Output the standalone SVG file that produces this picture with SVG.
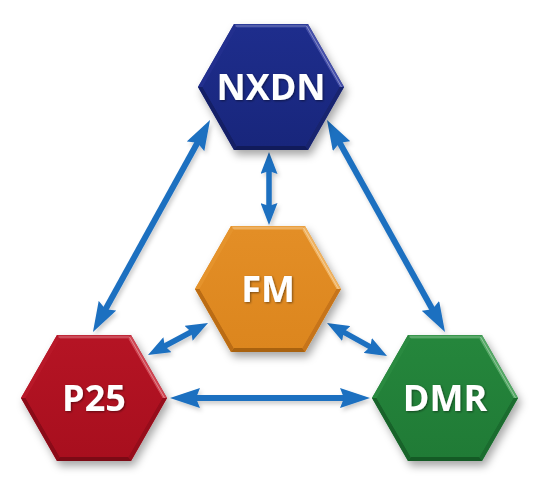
<svg xmlns="http://www.w3.org/2000/svg" xmlns:xlink="http://www.w3.org/1999/xlink" width="540" height="494" viewBox="0 0 540 494">
<style>
.lbl{font-family:"Open Sans","Liberation Sans",sans-serif;font-weight:700;font-size:36px;fill:#ffffff;text-anchor:middle;}
.arr{stroke:#1c6fc0;stroke-width:6;fill:none;marker-start:url(#head);marker-end:url(#head);}
.arrS{stroke:#1c6fc0;stroke-width:5.5;fill:none;marker-start:url(#headS);marker-end:url(#headS);}
.hl{fill:none;stroke:#ffffff;stroke-opacity:0.35;stroke-width:1;}
</style>
<defs>
<filter id="sh" x="-20%" y="-20%" width="150%" height="150%">
<feDropShadow dx="3" dy="5" stdDeviation="4" flood-color="#000" flood-opacity="0.35"/>
</filter>
<filter id="ash" x="-20%" y="-20%" width="140%" height="140%">
<feDropShadow dx="2" dy="3" stdDeviation="2" flood-color="#000" flood-opacity="0.2"/>
</filter>
<filter id="tsh" x="-10%" y="-10%" width="130%" height="130%">
<feDropShadow dx="1" dy="1" stdDeviation="0.8" flood-color="#000" flood-opacity="0.45"/>
</filter>
<marker id="head" markerUnits="userSpaceOnUse" viewBox="0 0 30 20" markerWidth="30" markerHeight="20" refX="8" refY="10" orient="auto-start-reverse">
<path d="M0,0 L30,10 L0,20 L4,10 Z" fill="#1c6fc0"/>
</marker>
<marker id="headS" markerUnits="userSpaceOnUse" viewBox="0 0 22 17" markerWidth="22" markerHeight="17" refX="6" refY="8.5" orient="auto-start-reverse">
<path d="M0,0 L22,8.5 L0,17 L3,8.5 Z" fill="#1c6fc0"/>
</marker>
<polygon id="hexOuter" points="-73,0 -37,-63 37,-63 73,0 37,63 -37,63"/>
<polygon id="hexInner" points="-68.4,0 -34.2,-59 34.2,-59 68.4,0 34.2,59 -34.2,59"/>
<polygon id="bTop" points="-37,-63 37,-63 34.2,-59 -34.2,-59"/>
<polygon id="bTR" points="37,-63 73,0 68.4,0 34.2,-59"/>
<polygon id="bBR" points="73,0 37,63 34.2,59 68.4,0"/>
<polygon id="bBot" points="37,63 -37,63 -34.2,59 34.2,59"/>
<polygon id="bBL" points="-37,63 -73,0 -68.4,0 -34.2,59"/>
<polygon id="bTL" points="-73,0 -37,-63 -34.2,-59 -68.4,0"/>
<polyline id="hlLine" points="-35.5,-61 35.5,-61 70.5,0"/>
<linearGradient id="gN" x1="0" y1="0" x2="0" y2="1"><stop offset="0" stop-color="#1e2d8c"/><stop offset="1" stop-color="#18267c"/></linearGradient>
<linearGradient id="gP" x1="0" y1="0" x2="0" y2="1"><stop offset="0" stop-color="#b51424"/><stop offset="1" stop-color="#a80f1e"/></linearGradient>
<linearGradient id="gF" x1="0" y1="0" x2="0" y2="1"><stop offset="0" stop-color="#e38e26"/><stop offset="1" stop-color="#dc861e"/></linearGradient>
<linearGradient id="gD" x1="0" y1="0" x2="0" y2="1"><stop offset="0" stop-color="#25863c"/><stop offset="1" stop-color="#207b36"/></linearGradient>
</defs>
<rect width="540" height="494" fill="#ffffff"/>

<g id="connectors" filter="url(#ash)">
<line class="arr" x1="199.4" y1="139.3" x2="103.6" y2="312.7"/>
<line class="arr" x1="337.7" y1="139.2" x2="434.3" y2="312.8"/>
<line class="arrS" x1="269" y1="168" x2="269" y2="209"/>
<line class="arrS" x1="193.9" y1="330.5" x2="162.1" y2="347.5"/>
<line class="arrS" x1="341" y1="330.7" x2="373" y2="348.3"/>
<line class="arr" x1="192" y1="398" x2="348" y2="398"/>
</g>

<g id="node-nxdn" transform="translate(271,87)">
<use xlink:href="#hexOuter" fill="#1b2a85" filter="url(#sh)"/>
<use xlink:href="#bTop" fill="#2e3d9a"/>
<use xlink:href="#bTR" fill="#4550aa"/>
<use xlink:href="#bBR" fill="#18246f"/>
<use xlink:href="#bBot" fill="#111b5a"/>
<use xlink:href="#bBL" fill="#141f66"/>
<use xlink:href="#bTL" fill="#222f8e"/>
<use xlink:href="#hexInner" fill="url(#gN)"/>
<use xlink:href="#hlLine" class="hl"/>
<text class="lbl" x="0" y="13" filter="url(#tsh)">NXDN</text>
</g>

<g id="node-fm" transform="translate(268,289)">
<use xlink:href="#hexOuter" fill="#e08a22" filter="url(#sh)"/>
<use xlink:href="#bTop" fill="#eaa040"/>
<use xlink:href="#bTR" fill="#efb260"/>
<use xlink:href="#bBR" fill="#c6741a"/>
<use xlink:href="#bBot" fill="#a9620f"/>
<use xlink:href="#bBL" fill="#bb6c14"/>
<use xlink:href="#bTL" fill="#e5932c"/>
<use xlink:href="#hexInner" fill="url(#gF)"/>
<use xlink:href="#hlLine" class="hl"/>
<text class="lbl" x="0" y="13" filter="url(#tsh)">FM</text>
</g>

<g id="node-p25" transform="translate(94,398)">
<use xlink:href="#hexOuter" fill="#b01020" filter="url(#sh)"/>
<use xlink:href="#bTop" fill="#c02838"/>
<use xlink:href="#bTR" fill="#cf4652"/>
<use xlink:href="#bBR" fill="#960d1b"/>
<use xlink:href="#bBot" fill="#7c0a15"/>
<use xlink:href="#bBL" fill="#8a0b18"/>
<use xlink:href="#bTL" fill="#b81828"/>
<use xlink:href="#hexInner" fill="url(#gP)"/>
<use xlink:href="#hlLine" class="hl"/>
<text class="lbl" x="0" y="13" filter="url(#tsh)">P25</text>
</g>

<g id="node-dmr" transform="translate(445,398)">
<use xlink:href="#hexOuter" fill="#23823a" filter="url(#sh)"/>
<use xlink:href="#bTop" fill="#38964c"/>
<use xlink:href="#bTR" fill="#55a866"/>
<use xlink:href="#bBR" fill="#1b6c2f"/>
<use xlink:href="#bBot" fill="#145a25"/>
<use xlink:href="#bBL" fill="#18632a"/>
<use xlink:href="#bTL" fill="#2a8a40"/>
<use xlink:href="#hexInner" fill="url(#gD)"/>
<use xlink:href="#hlLine" class="hl"/>
<text class="lbl" x="0" y="13" filter="url(#tsh)">DMR</text>
</g>
</svg>
